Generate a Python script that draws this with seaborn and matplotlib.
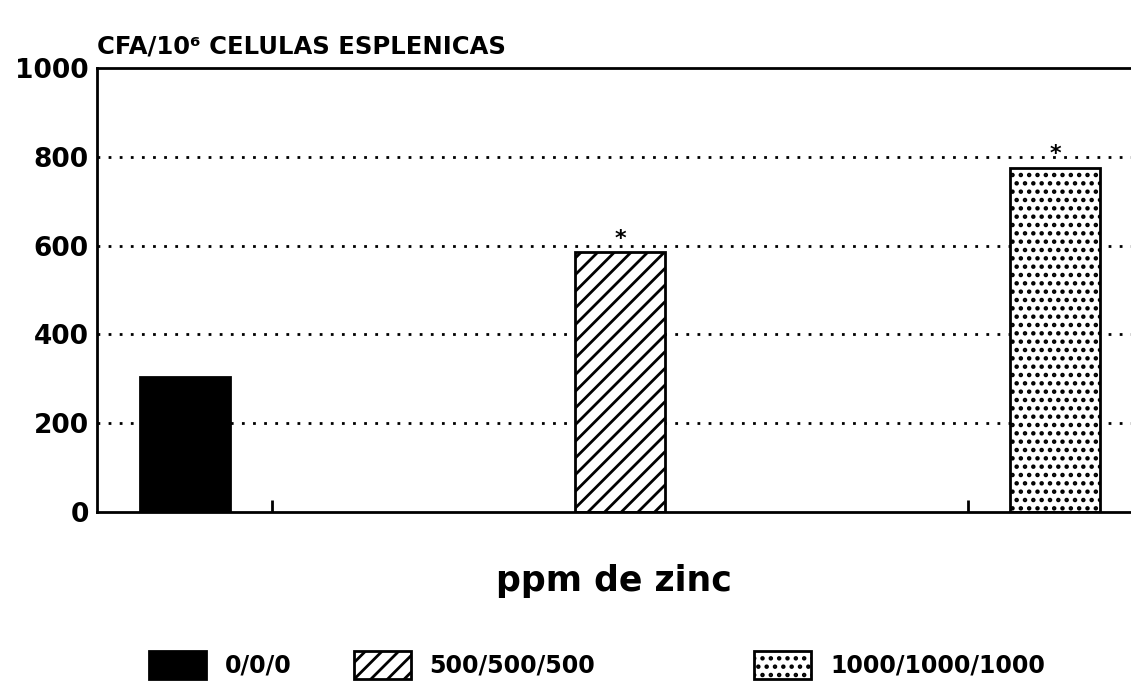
import numpy as np
import pandas as pd
import matplotlib
matplotlib.use('Agg')
import matplotlib.pyplot as plt
import matplotlib.patches as mpatches
import seaborn as sns

# datos
grupos = ['0/0/0', '500/500/500', '1000/1000/1000']
valores = [305, 585, 775]
significativo = [False, True, True]
yticks = [0, 200, 400, 600, 800, 1000]

colores = ['black', 'white', 'white']
tramas = ['', '//', '..']

sns.set_style('white')
plt.rcParams['font.family'] = ['DejaVu Sans']
plt.rcParams['hatch.linewidth'] = 2.0
for k in ['text.color', 'axes.labelcolor', 'xtick.color', 'ytick.color']:
    plt.rcParams[k] = 'black'

df = pd.DataFrame({'grupo': grupos, 'cfa': valores})

fig = plt.figure(figsize=(11.31, 6.92), dpi=100)
ax = fig.add_axes([0.086, 0.26, 0.914, 0.642])

sns.barplot(data=df, x='grupo', y='cfa', hue='grupo', palette=colores,
            order=grupos, hue_order=grupos, width=0.207, legend=False, ax=ax,
            edgecolor='black', linewidth=2, saturation=1)

for barra, trama in zip(ax.patches, tramas):
    barra.set_hatch(trama)
    barra.set_edgecolor('black')

# asteriscos de significancia
for i, (v, s) in enumerate(zip(valores, significativo)):
    if s:
        ax.text(i, v + 8, '*', ha='center', va='bottom', fontsize=16,
                fontweight='bold')

ax.set_ylim(0, 1000)
ax.set_xlim(-0.202, 2.175)
ax.set_yticks(yticks)
ax.set_yticklabels([str(t) for t in yticks], fontsize=19, fontweight='bold')
ax.tick_params(axis='y', length=0, pad=6)

# marcas pequeñas en el eje x
ax.set_xticks([0.2, 1.8])
ax.set_xticklabels(['', ''])
ax.tick_params(axis='x', bottom=True, direction='in', length=9, width=2,
               color='black')

for g in yticks[1:-1]:
    ax.axhline(g, color='black', linestyle=(0, (1, 3)), linewidth=2, zorder=0)

for lado in ['left', 'bottom', 'top']:
    ax.spines[lado].set_color('black')
    ax.spines[lado].set_linewidth(2)
ax.spines['right'].set_visible(False)

ax.set_xlabel('ppm de zinc', fontsize=25, fontweight='bold', labelpad=34)
ax.set_ylabel('')
ax.text(0.0, 1.02, 'CFA/10\u2076 CELULAS ESPLENICAS', transform=ax.transAxes,
        fontsize=17.5, fontweight='bold', ha='left', va='bottom')

# leyenda: tres entradas separadas como en el original
pos_leyenda = [0.132, 0.313, 0.667]
for c, h, g, x in zip(colores, tramas, grupos, pos_leyenda):
    m = mpatches.Patch(facecolor=c, edgecolor='black', hatch=h, linewidth=2)
    fig.legend([m], [g], loc='center left', bbox_to_anchor=(x, 0.039),
               frameon=False, handlelength=2.4, handleheight=1.5,
               handletextpad=0.8, borderpad=0, borderaxespad=0,
               prop={'size': 17, 'weight': 'bold'})

plt.savefig('out.png', dpi=100)
